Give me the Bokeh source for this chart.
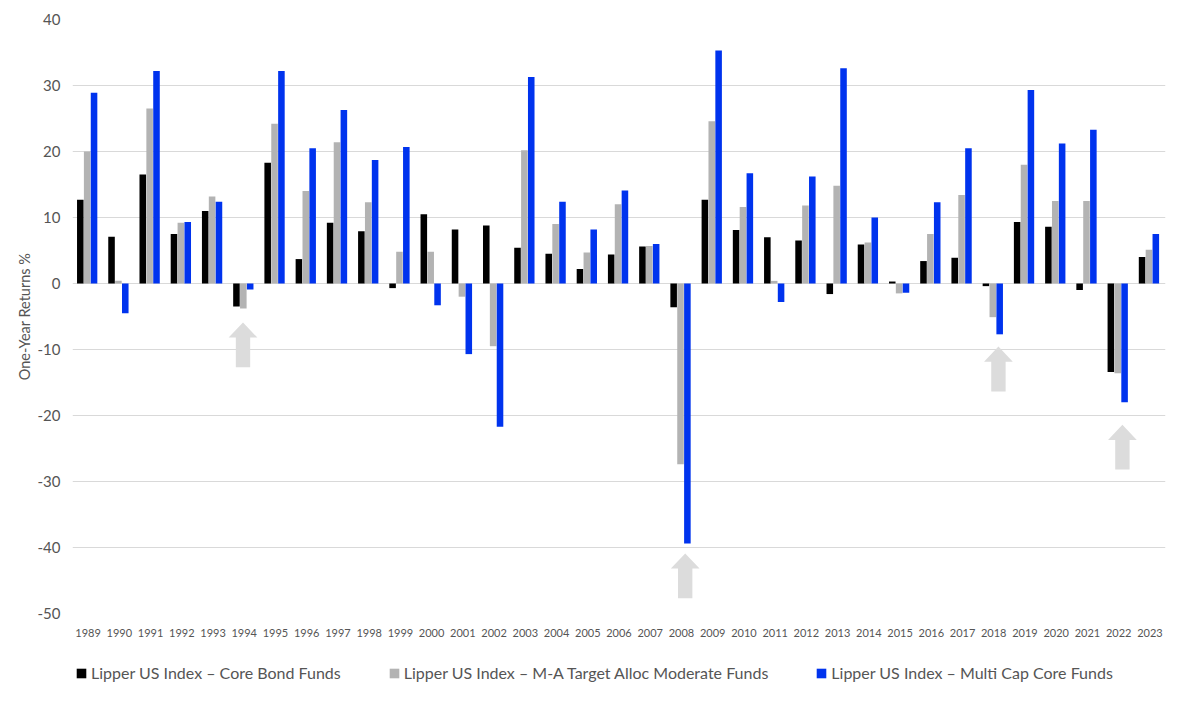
from bokeh.plotting import figure
from bokeh.layouts import column
from bokeh.models import FixedTicker, Range1d, Legend, LegendItem, ColumnDataSource
from bokeh.embed import file_html
from bokeh.resources import INLINE

years = list(range(1989, 2024))
core_bond = [12.7, 7.1, 16.5, 7.5, 11.0, -3.5, 18.3, 3.7, 9.2, 7.9, -0.7, 10.5, 8.2, 8.8, 5.4, 4.5, 2.2, 4.4,
             5.6, -3.6, 12.7, 8.1, 7.0, 6.5, -1.6, 5.9, 0.3, 3.4, 3.9, -0.4, 9.3, 8.6, -1.0, -13.4, 4.0]
target_alloc = [20.0, 0.4, 26.5, 9.2, 13.2, -3.8, 24.2, 14.0, 21.4, 12.3, 4.8, 4.8, -2.0, -9.5, 20.2, 9.0, 4.7, 12.0,
                5.7, -27.4, 24.6, 11.6, 0.4, 11.8, 14.8, 6.2, -1.5, 7.5, 13.4, -5.1, 18.0, 12.5, 12.5, -13.6, 5.1]
multi_cap = [28.9, -4.5, 32.2, 9.3, 12.4, -0.9, 32.2, 20.5, 26.3, 18.7, 20.7, -3.3, -10.7, -21.7, 31.3, 12.4, 8.2, 14.1,
             6.0, -39.4, 35.3, 16.7, -2.8, 16.2, 32.6, 10.0, -1.4, 12.3, 20.5, -7.7, 29.3, 21.2, 23.3, -18.0, 7.5]
series_names = ["Lipper US Index \u2013 Core Bond Funds",
                "Lipper US Index \u2013 M-A Target Alloc Moderate Funds",
                "Lipper US Index \u2013 Multi Cap Core Funds"]
series_colors = ["#000000", "#b3b3b3", "#0033ee"]
y_ticks = [40, 30, 20, 10, 0, -10, -20, -30, -40, -50]

# callout arrows: centre (in year-slot units) and tip value
arrow_x = [5.46, 19.62, 29.65, 33.62]
arrow_tip = [-5.9, -40.9, -9.55, -21.4]
ARROW_LEN = 6.8
HEAD_LEN = 2.3
HEAD_HALF = 0.46
SHAFT_HALF = 0.23

FONT = "Lato"
TEXT = "#555555"

p = figure(frame_width=1093, frame_height=594, output_backend="svg", toolbar_location=None,
           x_range=Range1d(0, 35), y_range=Range1d(-50, 40),
           min_border_left=72, min_border_right=7, min_border_top=19, min_border_bottom=37,
           outline_line_color=None, background_fill_color="white")

xs = [i + 0.5 for i in range(len(years))]
w = 0.21
series = [core_bond, target_alloc, multi_cap]
for vals, off, col in zip(series, [-0.25, -0.03, 0.19], series_colors):
    src = ColumnDataSource(dict(x=[v + off for v in xs], top=vals, bottom=[0] * len(vals)))
    p.vbar(x="x", top="top", bottom="bottom", width=w, source=src, fill_color=col, line_color=None)

ax, ay = [], []
for cx, tip in zip(arrow_x, arrow_tip):
    ax.append([cx, cx + HEAD_HALF, cx + SHAFT_HALF, cx + SHAFT_HALF, cx - SHAFT_HALF, cx - SHAFT_HALF, cx - HEAD_HALF])
    ay.append([tip, tip - HEAD_LEN, tip - HEAD_LEN, tip - ARROW_LEN, tip - ARROW_LEN, tip - HEAD_LEN, tip - HEAD_LEN])
p.patches(ax, ay, fill_color="#dcdcdc", line_color=None)

p.xaxis.ticker = FixedTicker(ticks=xs)
p.xaxis.major_label_overrides = {x: str(y) for x, y in zip(xs, years)}
p.xaxis.major_label_text_font = FONT
p.xaxis.major_label_text_font_size = "11px"
p.xaxis.major_label_text_color = TEXT
p.xaxis.major_label_standoff = 9
p.xaxis.axis_line_color = None
p.xaxis.major_tick_line_color = None
p.xaxis.minor_tick_line_color = None

p.yaxis.ticker = FixedTicker(ticks=y_ticks)
p.yaxis.major_label_overrides = {t: str(t) for t in y_ticks}
p.yaxis.major_label_text_font = FONT
p.yaxis.major_label_text_font_size = "15px"
p.yaxis.major_label_text_color = TEXT
p.yaxis.major_label_standoff = 6
p.yaxis.axis_line_color = None
p.yaxis.major_tick_line_color = None
p.yaxis.minor_tick_line_color = None
p.yaxis.axis_label = "One-Year Returns %"
p.yaxis.axis_label_text_font = FONT
p.yaxis.axis_label_text_font_size = "14.5px"
p.yaxis.axis_label_text_font_style = "normal"
p.yaxis.axis_label_text_color = TEXT
p.yaxis.axis_label_standoff = 2

p.xgrid.visible = False
p.ygrid.ticker = FixedTicker(ticks=y_ticks)
p.ygrid.grid_line_color = "#d9d9d9"
p.ygrid.grid_line_width = 1

# legend strip under the chart: the same series, kept out of this strip's view
p2 = figure(width=1172, height=54, output_backend="svg", toolbar_location=None,
            x_range=Range1d(0, 35), y_range=Range1d(1000, 1001),
            min_border_left=0, min_border_right=0, min_border_top=0, min_border_bottom=0,
            outline_line_color=None, background_fill_color="white")
p2.axis.visible = False
p2.grid.visible = False
swatches = [p2.vbar(x=xs, top=vals, bottom=0, width=w, fill_color=c, line_color=None)
            for vals, c in zip(series, series_colors)]
legend = Legend(items=[LegendItem(label=n, renderers=[r], index=0) for n, r in zip(series_names, swatches)],
                orientation="horizontal", location=(3, 22), border_line_color=None,
                background_fill_alpha=0, glyph_width=12, glyph_height=12, spacing=47,
                label_text_font=FONT, label_text_font_size="16px", label_text_color=TEXT,
                label_standoff=4, padding=0, margin=0)
p2.add_layout(legend, "center")

open("out.html", "w").write(file_html(column(p, p2, spacing=0), INLINE))
